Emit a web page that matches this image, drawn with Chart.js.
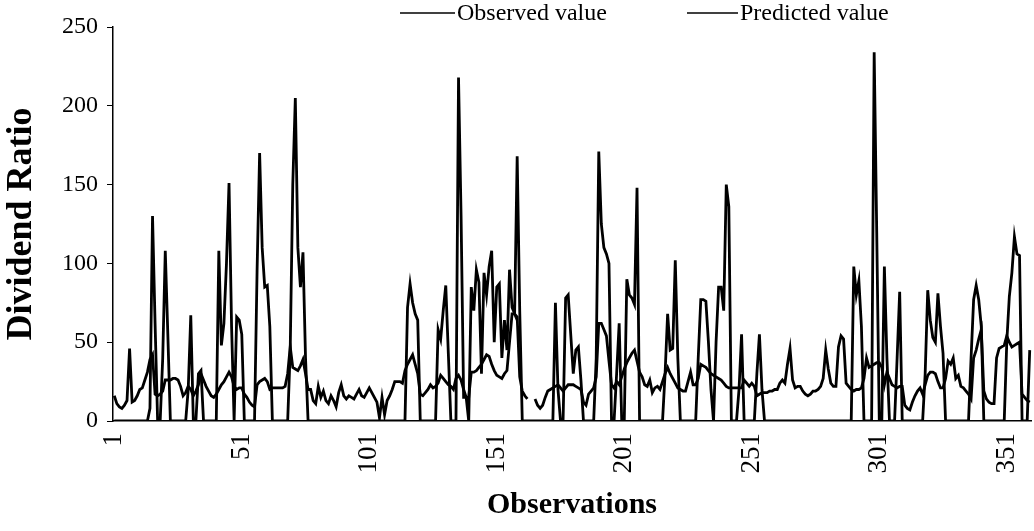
<!DOCTYPE html>
<html>
<head>
<meta charset="utf-8">
<script src="https://cdn.jsdelivr.net/npm/chart.js@4.4.0/dist/chart.umd.min.js"></script>
<style>
  html, body { margin: 0; padding: 0; background: #fff; }
  #wrap { width: 1034px; height: 531px; }
</style>
</head>
<body>
<div id="wrap"><canvas id="myChart" width="1034" height="531"></canvas></div>
<script>
// observations 1..360
const observations = [];
for (let i = 1; i <= 360; i++) observations.push(String(i));

const observedValue = [
  0, 0, 0, 0, 0, 0, 0, 0, 0, 0,
  0, 0, 0, 0, 8, 130, 62, 0, 0, 40,
  108, 55, 0, 0, 0, 0, 0, 0, 0, 20,
  67, 0, 0, 30, 32, 0, 0, 0, 0, 0,
  0, 108, 48, 62, 100, 151, 60, 0, 66, 64,
  55, 0, 0, 0, 0, 0, 95, 170, 110, 85,
  86, 60, 0, 0, 0, 0, 0, 0, 0, 45,
  150, 205, 110, 85, 107, 40, 0, 0, 0, 0,
  0, 0, 0, 0, 0, 0, 0, 0, 0, 0,
  0, 0, 0, 0, 0, 0, 0, 0, 0, 0,
  0, 0, 0, 0, 0, 0, 0, 0, 0, 0,
  0, 0, 0, 0, 0, 72, 87, 75, 68, 64,
  0, 0, 0, 0, 0, 0, 0, 58, 52, 70,
  86, 43, 0, 0, 0, 218, 130, 15, 15, 0,
  85, 70, 96, 88, 30, 94, 80, 98, 108, 50,
  85, 87, 40, 64, 45, 96, 72, 68, 168, 70,
  0, 0, 0, 0, 0, 0, 0, 0, 0, 0,
  0, 0, 0, 75, 20, 0, 0, 78, 80, 55,
  30, 45, 47, 26, 0, 0, 0, 0, 0, 40,
  171, 125, 110, 106, 100, 0, 0, 30, 62, 0,
  0, 90, 80, 78, 74, 148, 0, 0, 0, 0,
  0, 0, 0, 0, 0, 0, 30, 68, 45, 46,
  102, 40, 0, 0, 0, 0, 0, 0, 0, 40,
  77, 77, 76, 50, 20, 0, 50, 85, 85, 70,
  150, 136, 0, 0, 0, 20, 55, 0, 0, 0,
  0, 0, 30, 55, 20, 0, 0, 0, 0, 0,
  0, 0, 0, 0, 0, 0, 0, 0, 0, 0,
  0, 0, 0, 0, 0, 0, 0, 0, 0, 0,
  0, 0, 0, 0, 0, 0, 0, 0, 0, 0,
  98, 80, 89, 60, 0, 0, 0, 0, 234, 120,
  0, 0, 98, 40, 0, 0, 0, 40, 82, 0,
  0, 0, 0, 0, 0, 0, 0, 0, 30, 83,
  64, 53, 50, 81, 60, 43, 0, 0, 0, 0,
  0, 0, 0, 0, 0, 0, 40, 77, 86, 77,
  60, 0, 0, 0, 0, 0, 0, 0, 0, 0,
  50, 79, 94, 117, 106, 105, 0, 0, 0, 45,
];

const predictedValue = [
  16, 11, 9, 8, 10, 13, 46, 12, 13, 16,
  20, 21, 26, 31, 39, 42, 17, 16, 17, 19,
  26, 26, 26, 27, 27, 26, 22, 16, 18, 22,
  20, 16, 19, 23, 30, 26, 22, 19, 16, 15,
  17, 20, 23, 25, 28, 31, 28, 22, 20, 21,
  21, 17, 15, 12, 10, 9, 23, 25, 26, 27,
  25, 20, 21, 21, 21, 21, 21, 22, 30, 47,
  34, 33, 32, 35, 39, 30, 20, 20, 13, 11,
  22, 15, 19, 13, 11, 16, 13, 9, 18, 23,
  16, 14, 16, 15, 14, 17, 20, 16, 15, 18,
  21, 18, 15, 12, 2, 15, 4, 13, 16, 20,
  25, 25, 25, 24, 32, 36, 39, 42, 36, 30,
  17, 16, 18, 20, 23, 21, 22, 24, 29, 27,
  25, 23, 22, 20, 27, 29, 26, 20, 15, 15,
  31, 31, 32, 34, 36, 39, 42, 41, 36, 32,
  29, 28, 27, 30, 32, 50, 68, 68, 66, 28,
  19, 16, 14, null, null, 14, 10, 8, 10, 15,
  19, 20, 21, 22, 23, 21, 19, 21, 23, 23,
  23, 22, 21, 20, 12, 10, 17, 19, 21, 28,
  62, 62, 58, 54, 38, 23, 21, 25, 23, 28,
  33, 37, 40, 43, 45, 38, 31, 28, 23, 22,
  26, 18, 21, 22, 20, 25, 30, 34, 30, 27,
  24, 21, 20, 19, 19, 25, 31, 23, 23, 27,
  36, 35, 34, 32, 30, 29, 28, 27, 26, 24,
  22, 21, 21, 21, 21, 21, 21, 26, 24, 22,
  24, 22, 16, 17, 18, 18, 18, 19, 19, 20,
  20, 24, 26, 24, 36, 46, 26, 21, 22, 22,
  19, 17, 16, 17, 19, 19, 20, 22, 27, 45,
  33, 24, 22, 22, 47, 54, 52, 24, 22, 20,
  19, 20, 20, 21, 27, 40, 34, 35, 36, 37,
  37, 34, 23, 31, 27, 23, 22, 21, 22, 22,
  10, 8, 7, 12, 16, 19, 21, 17, 23, 29,
  31, 31, 30, 25, 21, 21, 27, 38, 36, 40,
  27, 29, 22, 21, 19, 17, 14, 40, 45, 52,
  58, 19, 14, 12, 11, 11, 40, 46, 47, 48,
  54, 50, 47, 48, 49, 50, 17, 15, 13, 12,
];

const yTicks = [0, 50, 100, 150, 200, 250];

const serif = "'Liberation Serif', 'Times New Roman', serif";

// legend drawn as line sample + text, like the original
const legendItems = [
  { text: "Observed value", x0: 400, x1: 455 },
  { text: "Predicted value", x0: 687, x1: 738 },
];

const lineLegend = {
  id: "lineLegend",
  afterDraw(chart) {
    const ctx = chart.ctx;
    ctx.save();
    ctx.font = "24px " + serif;
    ctx.fillStyle = "#000";
    ctx.strokeStyle = "#000";
    ctx.lineWidth = 1.5;
    ctx.textBaseline = "middle";
    legendItems.forEach((item) => {
      ctx.beginPath();
      ctx.moveTo(item.x0, 13);
      ctx.lineTo(item.x1, 13);
      ctx.stroke();
      ctx.fillText(item.text, item.x1 + 2, 14);
    });
    ctx.restore();
  },
};

const lineStyle = {
  borderColor: "#000",
  backgroundColor: "#000",
  borderWidth: 2.8,
  pointRadius: 0,
  tension: 0,
  spanGaps: false,
};

const data = {
  labels: observations,
  datasets: [
    { label: "Observed value", data: observedValue, ...lineStyle },
    { label: "Predicted value", data: predictedValue, ...lineStyle },
  ],
};

const config = {
  type: "line",
  data,
  plugins: [lineLegend],
  options: {
    responsive: false,
    animation: false,
    layout: { padding: { top: 27, right: 3, bottom: 0, left: 0 } },
    plugins: {
      legend: { display: false },
      tooltip: { enabled: false },
    },
    scales: {
      x: {
        offset: true,
        afterFit: (scale) => {
          scale.height = 110;
          scale.paddingLeft = 0;
          scale.paddingRight = 0;
        },
        // tick marks hidden, tickLength only pushes the labels down
        grid: { display: false, drawTicks: true, tickLength: 12 },
        border: { display: true, color: "#000", width: 1.5 },
        ticks: {
          autoSkip: false,
          minRotation: 90,
          maxRotation: 90,
          padding: 0,
          color: "#000",
          font: { family: serif, size: 27 },
          callback: (val, i) => (i % 50 === 0 ? observations[i] : null),
        },
        title: {
          display: true,
          text: "Observations",
          color: "#000",
          font: { family: serif, size: 30, weight: "bold" },
          padding: { top: 0, bottom: 8 },
        },
      },
      y: {
        min: 0,
        max: 250,
        afterFit: (scale) => { scale.width = 113; },
        afterBuildTicks: (scale) => {
          scale.ticks = yTicks.map((v) => ({ value: v }));
        },
        grid: {
          drawOnChartArea: false,
          drawTicks: true,
          tickLength: 6,
          color: "#000",
        },
        border: { display: true, color: "#000", width: 1.5 },
        ticks: {
          padding: 9,
          color: "#000",
          font: { family: serif, size: 24 },
        },
        title: {
          display: true,
          text: "Dividend Ratio",
          color: "#000",
          font: { family: serif, size: 36, weight: "bold" },
          padding: { top: 0, bottom: 0 },
        },
      },
    },
  },
};

const myChart = new Chart(document.querySelector("#myChart").getContext("2d"), config);
</script>
</body>
</html>
